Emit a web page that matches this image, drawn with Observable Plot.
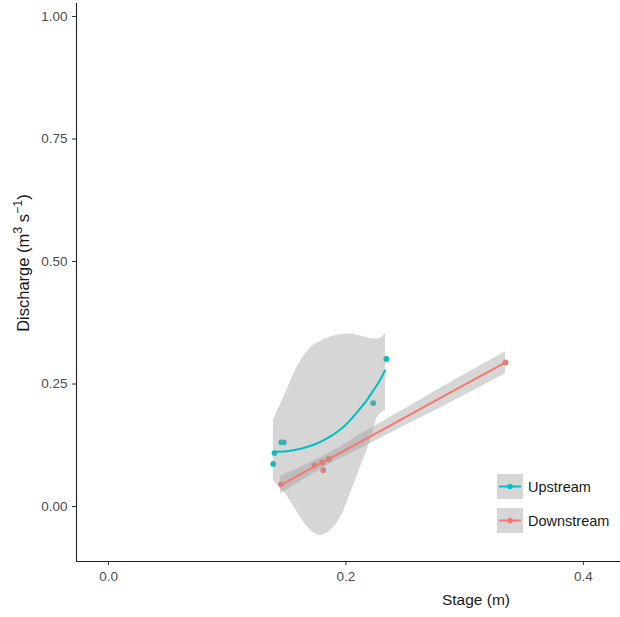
<!DOCTYPE html>
<html>
<head>
<meta charset="utf-8">
<script src="https://cdn.jsdelivr.net/npm/d3@7"></script>
<script src="https://cdn.jsdelivr.net/npm/@observablehq/plot@0.6"></script>
<style>
  html, body { margin: 0; padding: 0; background: #fff; }
  #wrap { position: relative; width: 620px; height: 617px; font-family: "Liberation Sans", Arial, sans-serif; }
  .legend { position: absolute; left: 497px; top: 474px; }
  .row { display: flex; align-items: center; height: 25px; margin-bottom: 9px; }
  .key { width: 26px; height: 25px; background: #d6d6d6; }
  .lab { margin-left: 5px; font-size: 14.5px; color: #1a1a1a; }
</style>
</head>
<body>
<div id="wrap"></div>
<script>
// ---- data ----
const seriesNames = ["Upstream", "Downstream"];
const seriesColors = ["#00BFC4", "#F8766D"];

const upStage = [0.1388, 0.1398, 0.1455, 0.1477, 0.2230, 0.2340];
const upDischarge = [0.087, 0.109, 0.131, 0.131, 0.211, 0.301];
const downStage = [0.1453, 0.1735, 0.1800, 0.1809, 0.1856, 0.3345];
const downDischarge = [0.045, 0.084, 0.090, 0.074, 0.097, 0.294];

// smoothed fits
const upFitStage = [0.139, 0.150, 0.162, 0.175, 0.187, 0.193, 0.199, 0.205, 0.211, 0.217, 0.222, 0.228, 0.233];
const upFitValue = [0.112, 0.113, 0.118, 0.128, 0.143, 0.153, 0.165, 0.180, 0.197, 0.215, 0.233, 0.255, 0.278];
const upBandStage = [0.139, 0.1415, 0.1492, 0.1575, 0.1660, 0.1727, 0.1786, 0.1870, 0.1955, 0.2039, 0.2123, 0.2207, 0.2266, 0.2300, 0.2334];
const upBandLow  = [0.053, 0.046, 0.025, -0.006, -0.037, -0.053, -0.059, -0.049, -0.022, 0.027, 0.080, 0.135, 0.182, 0.192, 0.196];
const upBandHigh = [0.176, 0.190, 0.231, 0.278, 0.312, 0.329, 0.337, 0.346, 0.351, 0.352, 0.348, 0.343, 0.342, 0.345, 0.353];

const downFitStage = [0.1449, 0.1618, 0.1786, 0.1955, 0.2123, 0.2460, 0.2881, 0.3345];
const downFitValue = [0.043, 0.066, 0.088, 0.110, 0.132, 0.177, 0.233, 0.294];
const downBandLow  = [0.025, 0.051, 0.076, 0.098, 0.118, 0.160, 0.212, 0.271];
const downBandHigh = [0.062, 0.080, 0.100, 0.122, 0.147, 0.194, 0.253, 0.316];

const xTicks = [0, 0.2, 0.4];
const yTicks = [0, 0.25, 0.5, 0.75, 1.0];
const xLabel = "Stage (m)";

// ---- build tables ----
const upPts = upStage.map((s, i) => ({stage: s, q: upDischarge[i]}));
const downPts = downStage.map((s, i) => ({stage: s, q: downDischarge[i]}));
const upFit = upFitStage.map((s, i) => ({stage: s, q: upFitValue[i]}));
const upBand = upBandStage.map((s, i) => ({stage: s, lo: upBandLow[i], hi: upBandHigh[i]}));
const downFit = downFitStage.map((s, i) => ({stage: s, q: downFitValue[i]}));
const downBand = downFitStage.map((s, i) => ({stage: s, lo: downBandLow[i], hi: downBandHigh[i]}));

const xDom = [-0.027, 0.4313];
const yDom = [-0.1122, 1.0265];

const chart = Plot.plot({
  width: 620,
  height: 617,
  marginLeft: 76,
  marginTop: 3,
  marginBottom: 56,
  marginRight: 0,
  style: {fontFamily: "'Liberation Sans', Arial, sans-serif", fontSize: "13.5px", color: "#4d4d4d", background: "white", overflow: "visible"},
  x: {domain: xDom, label: null},
  y: {domain: yDom, label: null},
  marks: [
    Plot.dot(upPts, {x: "stage", y: "q", r: 2.9, fill: seriesColors[0], stroke: null}),
    Plot.dot(downPts, {x: "stage", y: "q", r: 2.9, fill: seriesColors[1], stroke: null}),
    Plot.areaY(upBand, {x: "stage", y1: "lo", y2: "hi", fill: "#999999", fillOpacity: 0.4, curve: "catmull-rom"}),
    Plot.line(upFit, {x: "stage", y: "q", stroke: seriesColors[0], strokeWidth: 2, curve: "catmull-rom"}),
    Plot.areaY(downBand, {x: "stage", y1: "lo", y2: "hi", fill: "#999999", fillOpacity: 0.4, curve: "catmull-rom"}),
    Plot.line(downFit, {x: "stage", y: "q", stroke: seriesColors[1], strokeWidth: 2}),
    Plot.axisX({ticks: xTicks, tickFormat: d3.format(".1f"), tickSize: 4, tickPadding: 6, stroke: "#333", label: null}),
    Plot.axisY({ticks: yTicks, tickFormat: d3.format(".2f"), tickSize: 4, tickPadding: 5, stroke: "#333", label: null}),
    Plot.ruleX([xDom[0]], {stroke: "#222", strokeWidth: 1.1}),
    Plot.ruleY([yDom[0]], {stroke: "#222", strokeWidth: 1.1})
  ]
});

const svg = d3.select(chart);
svg.append("text")
  .attr("x", 476).attr("y", 605)
  .attr("text-anchor", "middle")
  .attr("font-size", 15.5).attr("fill", "#1a1a1a")
  .text(xLabel);

const yt = svg.append("text")
  .attr("transform", "translate(29,263) rotate(-90)")
  .attr("text-anchor", "middle")
  .attr("font-size", 16.5).attr("fill", "#1a1a1a");
yt.append("tspan").text("Discharge (m");
yt.append("tspan").attr("dy", -7).attr("font-size", 12.5).text("3");
yt.append("tspan").attr("dy", 7).text(" s");
yt.append("tspan").attr("dy", -7).attr("font-size", 12.5).text("\u22121");
yt.append("tspan").attr("dy", 7).text(")");

const wrap = document.getElementById("wrap");
wrap.appendChild(chart);

// legend overlay
const leg = document.createElement("div");
leg.className = "legend";
seriesNames.forEach((name, i) => {
  const row = document.createElement("div");
  row.className = "row";
  row.innerHTML = `<div class="key"><svg width="26" height="25"><line x1="2" x2="24" y1="12.5" y2="12.5" stroke="${seriesColors[i]}" stroke-width="2"/><circle cx="13" cy="12.5" r="2.7" fill="${seriesColors[i]}"/></svg></div><span class="lab">${name}</span>`;
  leg.appendChild(row);
});
wrap.appendChild(leg);
</script>
</body>
</html>
